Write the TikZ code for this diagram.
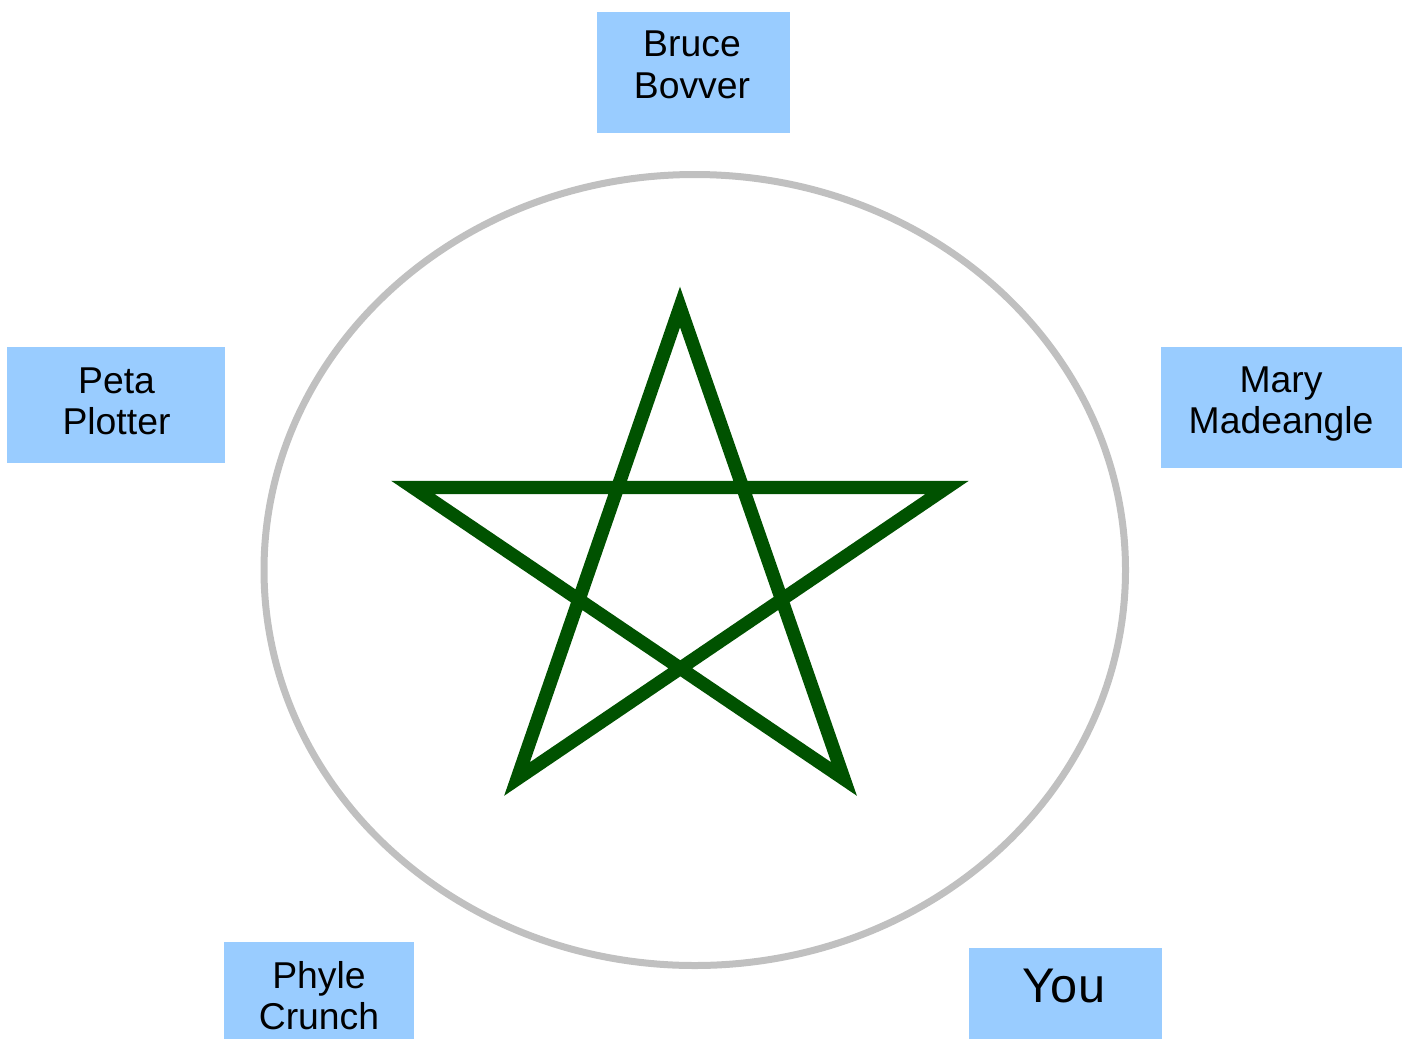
\documentclass[tikz,border=0pt]{standalone}
\usepackage{fontspec}
\setmainfont{Liberation Sans}
\definecolor{boxblue}{RGB}{153,204,255}
\definecolor{ringgray}{RGB}{192,192,192}
\definecolor{stargreen}{RGB}{0,82,0}
\begin{document}
\begin{tikzpicture}[x=0.75pt,y=-0.75pt,
  box/.style={rectangle,fill=boxblue,draw=none,inner sep=0pt},
  lbl/.style={font=\fontsize{28}{31}\selectfont,align=center,inner sep=0pt,text=black},
  biglbl/.style={font=\fontsize{36.5}{40}\selectfont,align=center,inner sep=0pt,text=black},
  ring/.style={draw=ringgray,line width=5.25pt},
  starline/.style={draw=stargreen,line width=10pt,line join=miter}]
\useasboundingbox (0,0) rectangle (1408,1039);
% boxes
\node[box,minimum width=144.75pt,minimum height=90.75pt] (bruce) at (693.5,72.5) {};
\node[box,minimum width=163.5pt,minimum height=87pt] (peta) at (116,405) {};
\node[box,minimum width=180.75pt,minimum height=90.75pt] (mary) at (1281.5,407.5) {};
\node[box,minimum width=142.5pt,minimum height=72.75pt] (phyle) at (319,990.5) {};
\node[box,minimum width=144.75pt,minimum height=68.25pt] (you) at (1065.5,993.5) {};
% labels
\node[lbl] (bruceT) at (692,65) {Bruce\\Bovver};
\node[lbl] (petaT) at (116.5,401) {Peta\\Plotter};
\node[lbl] (maryT) at (1281,404) {Mary\\Madeangle};
\node[lbl] (phyleT) at (319,995.5) {Phyle\\Crunch};
\node[biglbl] (youT) at (1064,985.5) {You};
% ring
\draw[ring] (694.75,570) ellipse [x radius=430.75, y radius=395.5];
% star
\coordinate (st) at (680,307);
\coordinate (sl) at (413,487.5);
\coordinate (sr) at (947,487.5);
\coordinate (sbl) at (517,779);
\coordinate (sbr) at (844,779);
\draw[starline] (st) -- (sbl) -- (sr) -- (sl) -- (sbr) -- cycle;
\end{tikzpicture}
\end{document}
